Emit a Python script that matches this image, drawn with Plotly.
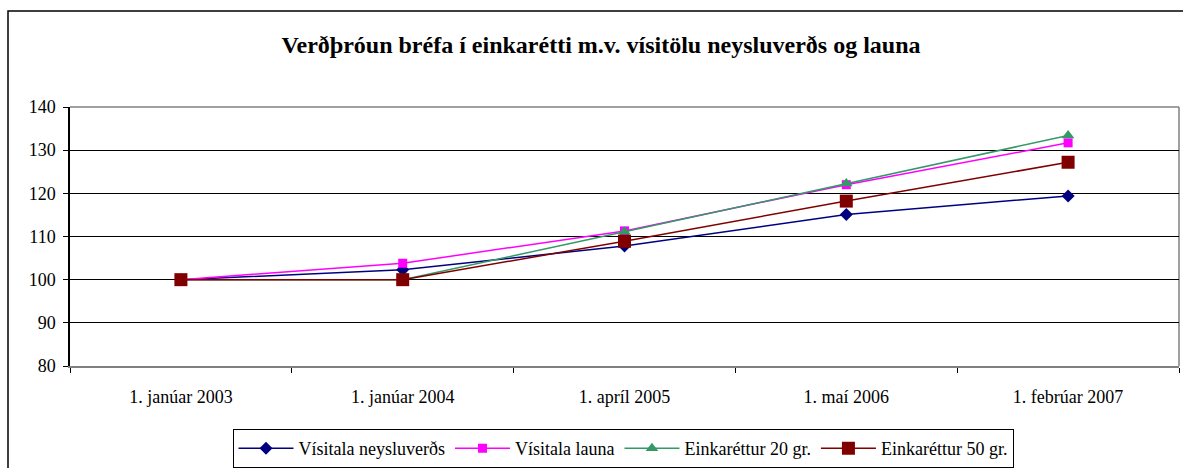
import plotly.graph_objects as go

categories = ["1. janúar 2003", "1. janúar 2004", "1. apríl 2005", "1. maí 2006", "1. febrúar 2007"]
neysluverd = [100, 102.3, 107.8, 115.1, 119.4]
laun = [100, 103.8, 111.3, 122.0, 131.7]
einka20 = [100, 100, 111.1, 122.3, 133.4]
einka50 = [100, 100, 108.9, 118.2, 127.2]
y_ticks = [80, 90, 100, 110, 120, 130, 140]

FONT = "Liberation Serif, Times New Roman, serif"

L, R, T, B = 70, 4, 107, 102
W, H = 1183, 468
PW, PH = W - L - R, H - T - B

fig = go.Figure()
fig.add_trace(go.Scatter(x=categories, y=neysluverd, name="Vísitala neysluverðs", mode="lines+markers",
                         line=dict(color="#000080", width=1.5),
                         marker=dict(symbol="diamond", size=10, color="#000080")))
fig.add_trace(go.Scatter(x=categories, y=laun, name="Vísitala launa", mode="lines+markers",
                         line=dict(color="#FF00FF", width=1.5),
                         marker=dict(symbol="square", size=9, color="#FF00FF")))
fig.add_trace(go.Scatter(x=categories, y=einka20, name="Einkaréttur 20 gr.", mode="lines+markers",
                         line=dict(color="#339966", width=1.5),
                         marker=dict(symbol="triangle-up", size=11, color="#339966")))
fig.add_trace(go.Scatter(x=categories, y=einka50, name="Einkaréttur 50 gr.", mode="lines+markers",
                         line=dict(color="#800000", width=1.5),
                         marker=dict(symbol="square", size=13, color="#800000")))

fig.update_layout(
    width=W, height=H,
    margin=dict(l=L, r=R, t=T, b=B, autoexpand=False),
    paper_bgcolor="white", plot_bgcolor="white",
    font=dict(family=FONT, size=18, color="black"),
    title=dict(text="<b>Verðþróun bréfa í einkarétti m.v. vísitölu neysluverðs og launa</b>",
               x=0.508, xanchor="center", y=(H - 45) / H, yanchor="middle",
               font=dict(family=FONT, size=24, color="black")),
    showlegend=True,
    legend=dict(orientation="h", x=(623 - L) / PW, xanchor="center", y=(366 - 429) / PH, yanchor="top",
                bordercolor="black", borderwidth=1, bgcolor="white",
                font=dict(family=FONT, size=18), itemwidth=55, tracegroupgap=0),
    xaxis=dict(type="category", range=[-0.5, 4.5], showgrid=False, showline=True,
               linecolor="#808080", linewidth=1.5,
               ticks="outside", tickson="boundaries", ticklen=5, tickcolor="black",
               ticklabelstandoff=14,
               tickfont=dict(family=FONT, size=18), zeroline=False),
    yaxis=dict(range=[80, 140], tickvals=y_ticks, showgrid=True, gridcolor="black", gridwidth=1,
               showline=True, linecolor="black", linewidth=1.5, ticks="outside", ticklen=5,
               tickcolor="black", ticklabelstandoff=4,
               tickfont=dict(family=FONT, size=18), zeroline=False),
)

# plot-area border (grey) on top and right
fig.add_shape(type="line", xref="paper", yref="paper", x0=0, x1=1, y0=1, y1=1,
              line=dict(color="#808080", width=1.5), layer="between")
fig.add_shape(type="line", xref="paper", yref="paper", x0=1, x1=1, y0=0, y1=1,
              line=dict(color="#808080", width=1.5), layer="between")
# outer chart frame
fig.add_shape(type="rect", xref="paper", yref="paper", x0=(8 - L) / PW, x1=(W + 5 - L) / PW,
              y0=(366 - H - 5) / PH, y1=(366 - 11) / PH,
              line=dict(color="black", width=1.5), layer="below")

fig.write_html("out.html", config={"displayModeBar": False},
               post_script="document.body.style.margin='0';document.body.style.overflow='hidden';")
